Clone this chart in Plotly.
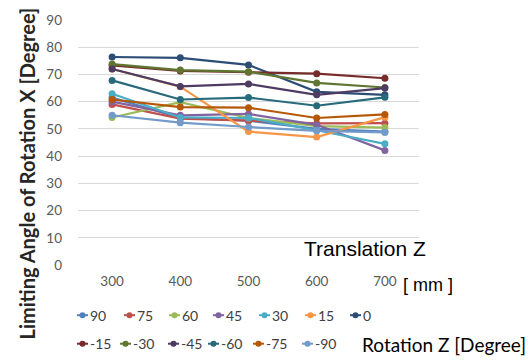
import plotly.graph_objects as go

translation_z = [300, 400, 500, 600, 700]
x_tick_labels = ["300", "400", "500", "600", "700"]
y_ticks = [0, 10, 20, 30, 40, 50, 60, 70, 80, 90]

rot_90 = [61.5, 54.0, 53.0, 50.0, 49.0]
rot_75 = [59.0, 53.8, 53.0, 52.0, 52.1]
rot_60 = [54.2, 59.8, 54.0, 51.0, 50.5]
rot_45 = [60.0, 55.0, 55.5, 51.5, 42.1]
rot_30 = [62.9, 54.2, 54.0, 49.5, 44.5]
rot_15 = [72.0, 65.5, 49.0, 47.0, 54.3]
rot_0 = [76.4, 76.1, 73.5, 63.6, 62.5]
rot_m15 = [73.3, 71.3, 70.8, 70.3, 68.6]
rot_m30 = [73.8, 71.6, 71.0, 66.9, 65.2]
rot_m45 = [72.0, 65.6, 66.5, 62.5, 65.0]
rot_m60 = [67.8, 60.8, 61.5, 58.5, 61.6]
rot_m75 = [60.8, 58.0, 57.8, 54.0, 55.3]
rot_m90 = [55.0, 52.3, 50.7, 49.3, 48.7]

series_names = ["90", "75", "60", "45", "30", "15", "0",
                "-15", "-30", "-45", "-60", "-75", "-90"]
series_values = [rot_90, rot_75, rot_60, rot_45, rot_30, rot_15, rot_0,
                 rot_m15, rot_m30, rot_m45, rot_m60, rot_m75, rot_m90]
colors = ["#4F81BD", "#C0504D", "#9BBB59", "#8064A2", "#4BACC6", "#F79646", "#2C4D75",
          "#772C2A", "#5F7530", "#4D3B62", "#276A7C", "#B65708", "#729ACA"]

# layout geometry (pixels)
W, H = 528, 363
L, R, T, B = 78, 109, 16, 98
PW, PH = W - L - R, H - T - B


def px_x(px):
    return (px - L) / PW


def px_y(py):
    return (H - B - py) / PH


fig = go.Figure()
for name, vals, col in zip(series_names, series_values, colors):
    fig.add_trace(go.Scatter(
        x=translation_z, y=vals, name=name, mode="lines+markers",
        line=dict(color=col, width=2.2),
        marker=dict(color=col, size=7, symbol="circle"),
        showlegend=False,
    ))

tick_font = dict(family="Lato, Noto Sans, sans-serif", size=13.5, color="#595959")
fig.update_layout(
    width=W, height=H,
    margin=dict(l=L, r=R, t=T, b=B),
    paper_bgcolor="white", plot_bgcolor="white",
    xaxis=dict(range=[250, 750], tickvals=translation_z, ticktext=x_tick_labels,
               showgrid=False, zeroline=False, showline=False, ticks="",
               tickfont=tick_font, ticklabelstandoff=6),
    yaxis=dict(range=[0, 90], tickvals=y_ticks, showgrid=True, gridcolor="#D9D9D9",
               gridwidth=1, zeroline=False, showline=False, ticks="",
               tickfont=tick_font, ticklabelstandoff=15),
    showlegend=False,
)

# custom two-row legend (short line sample + marker + label)
legend_starts = [(77, 316), (124, 316), (169, 316), (213, 316), (259, 316), (305, 316), (350, 316),
                 (77, 345), (120, 345), (168, 345), (208, 345), (253, 345), (302, 345)]
shapes = []
for (sx, sy), name, col in zip(legend_starts, series_names, colors):
    shapes.append(dict(type="line", xref="paper", yref="paper",
                       x0=px_x(sx), x1=px_x(sx + 11), y0=px_y(sy), y1=px_y(sy),
                       line=dict(color=col, width=2)))
    shapes.append(dict(type="circle", xref="paper", yref="paper",
                       xsizemode="pixel", ysizemode="pixel",
                       xanchor=px_x(sx + 5.5), yanchor=px_y(sy),
                       x0=-3, x1=3, y0=-3, y1=3,
                       fillcolor=col, line=dict(color=col, width=0)))
    fig.add_annotation(text=name, xref="paper", yref="paper",
                       x=px_x(sx + 11), y=px_y(sy), xanchor="left", yanchor="middle",
                       showarrow=False,
                       font=dict(family="Lato, Noto Sans, sans-serif", size=14, color="#404040"))
fig.update_layout(shapes=shapes)

fig.add_annotation(text="<b>Limiting Angle of Rotation X [Degree]</b>", textangle=-90,
                   xref="paper", yref="paper", x=px_x(27), y=px_y(172),
                   xanchor="center", yanchor="middle",
                   showarrow=False, font=dict(family="Lato, Noto Sans, sans-serif", size=20, color="#262626"))
fig.add_annotation(text="Translation Z", xref="paper", yref="paper", x=px_x(302), y=px_y(248),
                   xanchor="left", yanchor="middle", showarrow=False,
                   font=dict(family="Liberation Sans, Arial, sans-serif", size=21, color="black"))
fig.add_annotation(text="[ mm ]", xref="paper", yref="paper", x=px_x(401), y=px_y(285),
                   xanchor="left", yanchor="middle", showarrow=False,
                   font=dict(family="Liberation Sans, Arial, sans-serif", size=18, color="black"))
fig.add_annotation(text="Rotation Z [Degree]", xref="paper", yref="paper", x=px_x(360), y=px_y(346),
                   xanchor="left", yanchor="middle", showarrow=False,
                   font=dict(family="Lato, Noto Sans, sans-serif", size=19, color="black"))

fig.write_html("out.html", config={"displayModeBar": False},
               post_script="document.body.style.margin='0';document.body.style.overflow='hidden';")
